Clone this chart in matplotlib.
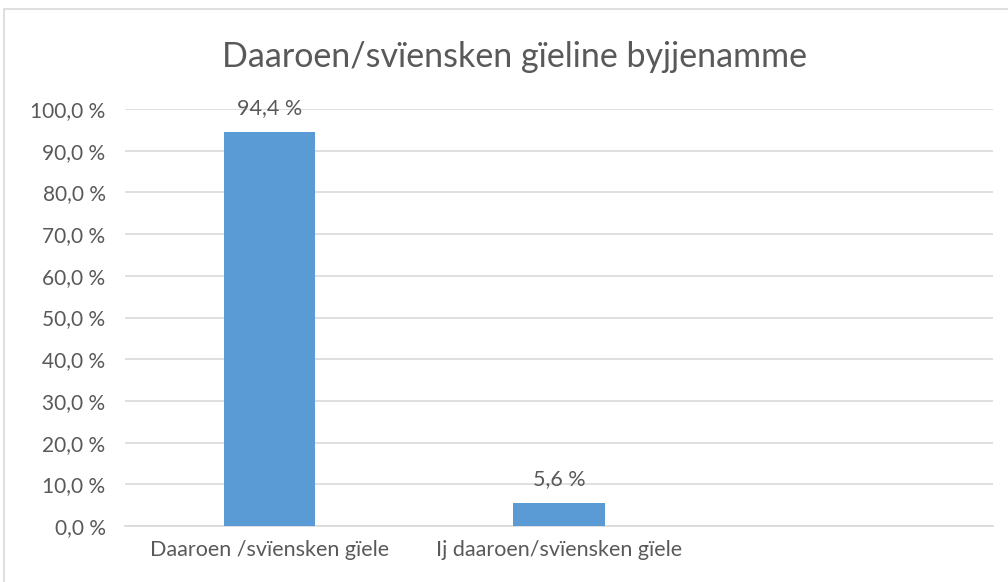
import matplotlib.pyplot as plt
from matplotlib.patches import Rectangle

categories = ["Daaroen /svïensken gïele", "Ij daaroen/svïensken gïele", ""]
values = [94.4, 5.6, None]
title = "Daaroen/svïensken gïeline byjjenamme"
yticks = [0, 10, 20, 30, 40, 50, 60, 70, 80, 90, 100]

text_col = "#595959"
bar_col = "#5B9BD5"
grid_col = "#D9D9D9"

plt.rcParams['font.family'] = ['Lato', 'DejaVu Sans']

fig = plt.figure(figsize=(10.08, 5.82), dpi=100)
W, H = 1008, 582
# axes placed in pixel terms: left 125, right 993, top 109, bottom 526
ax = fig.add_axes([125 / W, 1 - 526 / H, (993 - 125) / W, (526 - 109) / H])

# outer chart border (top and left visible)
fig.patches.append(Rectangle((4 / W, -0.1), 1.2, 1 - 9 / H + 0.1, transform=fig.transFigure,
                             fill=False, edgecolor="#D9D9D9", linewidth=1.2))

x = list(range(len(categories)))
for xi, v in zip(x, values):
    if v is None:
        continue
    ax.bar(xi, v, width=0.315, color=bar_col, zorder=3)
    ax.annotate(f"{v:.1f} %".replace(".", ","), (xi, v), xytext=(0, 10), textcoords="offset points",
                ha="center", va="bottom", fontsize=15.5, color=text_col)

ax.set_xlim(-0.5, len(categories) - 0.5)
ax.set_ylim(0, 100)
ax.set_yticks(yticks)
ax.set_yticklabels([f"{t:.1f} %".replace(".", ",") for t in yticks], fontsize=15, color=text_col)
ax.set_xticks(x)
ax.set_xticklabels(categories, fontsize=15.5, color=text_col)
ax.tick_params(axis="y", length=0, pad=14)
ax.tick_params(axis="x", length=0, pad=10)
ax.yaxis.grid(True, color=grid_col, linewidth=1.2, zorder=0)
ax.set_axisbelow(True)
for s in ["top", "right", "left"]:
    ax.spines[s].set_visible(False)
ax.spines["bottom"].set_color(grid_col)
ax.spines["bottom"].set_linewidth(1.2)

fig.text(514 / W, 1 - 57 / H, title, ha="center", va="center", fontsize=24.5, color=text_col)

fig.savefig("out.png", dpi=100)
